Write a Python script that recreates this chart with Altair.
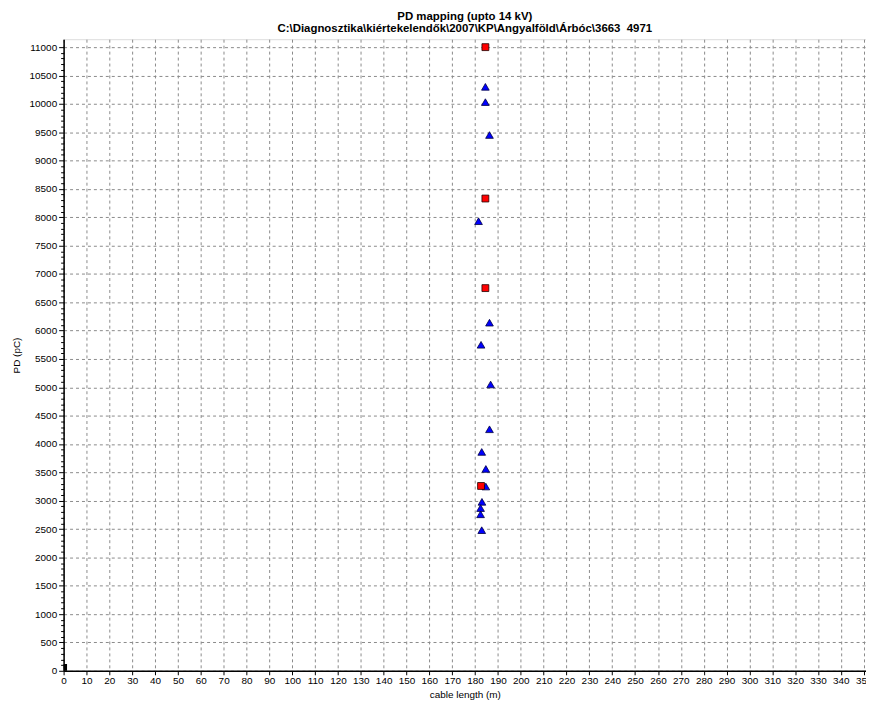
import altair as alt
import pandas as pd

title_lines = ["PD mapping (upto 14 kV)",
               "C:\\Diagnosztika\\kiértekelendők\\2007\\KP\\Angyalföld\\Árbóc\\3663\u00a0 4971"]

sq_x = [184.5, 184.5, 184.5, 182.6]
sq_y = [11000, 8330, 6750, 3260]

tri_x = [184.5, 184.5, 186.3, 181.5, 186.3, 182.6, 186.8, 186.3, 182.9, 184.7, 184.7, 183.0, 182.4, 182.4, 182.9]
tri_y = [10300, 10030, 9450, 7930, 6140, 5750, 5050, 4260, 3860, 3560, 3250, 2980, 2870, 2760, 2480]

bar_x0 = [0.0]
bar_x1 = [1.5]
bar_h = [120]

x_ticks = list(range(0, 351, 10))
y_ticks = list(range(0, 11001, 100))

FONT = "Liberation Sans"

xscale = alt.Scale(domain=[0, 351], nice=False, zero=False)
yscale = alt.Scale(domain=[0, 11140], nice=False, zero=False)

xaxis = alt.Axis(title="cable length (m)", values=x_ticks, format="d",
                 labelFlush=False, labelOverlap=False, grid=True,
                 gridDash=[3, 3], gridColor="#8a8a8a", gridWidth=1,
                 domainColor="black", domainWidth=1.5, tickColor="black", tickSize=4,
                 labelFont=FONT, labelFontSize=10, labelColor="black", labelPadding=1,
                 titleFont=FONT, titleFontSize=10, titleFontWeight="normal", titleColor="black",
                 titleY=19, titleBaseline="top")

yaxis = alt.Axis(title="PD (pC)", values=y_ticks, format="d",
                 labelExpr="datum.value % 500 === 0 ? datum.label : ''",
                 labelFlush=False, labelOverlap=False, grid=True,
                 gridDash=[3, 3], gridColor="#8a8a8a", gridWidth=1,
                 gridOpacity={"condition": {"test": "datum.value % 500 === 0", "value": 1}, "value": 0},
                 tickSize={"condition": {"test": "datum.value % 500 === 0", "value": 5}, "value": 3},
                 domainColor="black", domainWidth=1.5, tickColor="black",
                 labelFont=FONT, labelFontSize=10, labelColor="black", labelPadding=2,
                 titleFont=FONT, titleFontSize=10, titleFontWeight="normal", titleColor="black",
                 titleX=-42)

bar_df = pd.DataFrame({"x0": bar_x0, "x1": bar_x1, "y0": [0], "y1": bar_h})
sq_df = pd.DataFrame({"x": sq_x, "y": sq_y})
tri_df = pd.DataFrame({"x": tri_x, "y": tri_y})

bars = alt.Chart(bar_df).mark_rect(color="black").encode(
    x=alt.X("x0:Q", scale=xscale, axis=xaxis),
    x2="x1:Q",
    y=alt.Y("y0:Q", scale=yscale, axis=yaxis),
    y2="y1:Q",
)

tris = alt.Chart(tri_df).mark_point(shape="triangle-up", filled=True, fill="#0000ff",
                                    stroke="#000040", strokeWidth=0.8, size=60, opacity=1).encode(
    x=alt.X("x:Q", scale=xscale, axis=xaxis),
    y=alt.Y("y:Q", scale=yscale, axis=yaxis),
)

sqs = alt.Chart(sq_df).mark_point(shape="square", filled=True, fill="#ff0000",
                                  stroke="#200000", strokeWidth=0.8, size=48, opacity=1).encode(
    x=alt.X("x:Q", scale=xscale, axis=xaxis),
    y=alt.Y("y:Q", scale=yscale, axis=yaxis),
)

chart = alt.layer(bars, tris, sqs).properties(
    width=808, height=636,
    title=alt.TitleParams(text=title_lines, anchor="middle", font=FONT, fontSize=11.5,
                          fontWeight="bold", color="black", offset=5, lineHeight=12),
    autosize=alt.AutoSizeParams(type="none"),
    padding={"left": 56, "top": 29, "right": 0, "bottom": 28},
).configure_view(stroke="#808080", strokeWidth=1.5).configure(background="white")

chart.save("out.html", embed_options={"renderer": "svg", "actions": False})
